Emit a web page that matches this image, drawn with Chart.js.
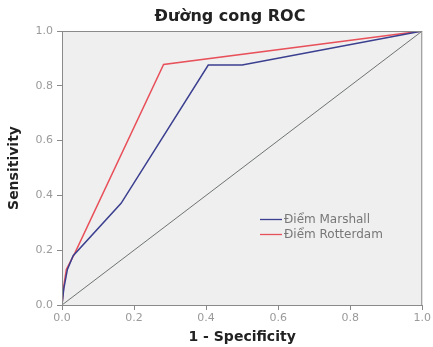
<!DOCTYPE html>
<html>
<head>
<meta charset="utf-8">
<script src="https://cdn.jsdelivr.net/npm/chart.js@4/dist/chart.umd.min.js"></script>
<style>
html,body{margin:0;padding:0;background:#fff;}
canvas{display:block;}
</style>
</head>
<body>
<canvas id="c" width="433" height="347"></canvas>
<script>
const chartTitle = "Đường cong ROC";
const xTitle = "1 - Specificity";
const yTitle = "Sensitivity";
const seriesNames = ["Điểm Marshall", "Điểm Rotterdam"];
const marshallX = [0, 0.005, 0.015, 0.031, 0.164, 0.406, 0.5, 1];
const marshallY = [0, 0.06, 0.13, 0.18, 0.371, 0.876, 0.876, 1];
const rotterdamX = [0, 0.005, 0.012, 0.036, 0.282, 1];
const rotterdamY = [0, 0.07, 0.13, 0.19, 0.878, 1];
const refX = [0, 1];
const refY = [0, 1];
const tickValues = [0, 0.2, 0.4, 0.6, 0.8, 1.0];

const colors = {marshall: "#3b3f8f", rotterdam: "#e8505a", ref: "#6e7370"};
const pts = (xs, ys) => xs.map((x, i) => ({x, y: ys[i]}));
const FAM = '"DejaVu Sans", Verdana, sans-serif';

const bgPlugin = {
  id: 'bg',
  beforeDraw(chart) {
    const {ctx, chartArea: a} = chart;
    ctx.save();
    ctx.fillStyle = '#efefef';
    ctx.fillRect(a.left, a.top, a.right - a.left, a.bottom - a.top);
    ctx.restore();
  },
  afterDraw(chart) {
    const {ctx, chartArea: a} = chart;
    ctx.save();
    ctx.strokeStyle = '#8a8a8a';
    ctx.lineWidth = 1;
    ctx.strokeRect(a.left + 0.5, a.top + 0.5, a.right - a.left - 1, a.bottom - a.top);
    // title
    ctx.fillStyle = '#222';
    ctx.font = 'bold 16px ' + FAM;
    ctx.textAlign = 'center';
    ctx.textBaseline = 'alphabetic';
    ctx.fillText(chartTitle, 230, 21);
    // legend
    const items = [
      {name: seriesNames[0], color: colors.marshall},
      {name: seriesNames[1], color: colors.rotterdam}
    ];
    ctx.font = '12px ' + FAM;
    ctx.textAlign = 'left';
    ctx.textBaseline = 'middle';
    items.forEach((it, i) => {
      const y = 219 + i * 15;
      ctx.strokeStyle = it.color;
      ctx.lineWidth = 1.3;
      ctx.beginPath();
      ctx.moveTo(260, y + 0.5);
      ctx.lineTo(282, y + 0.5);
      ctx.stroke();
      ctx.fillStyle = '#777';
      ctx.fillText(it.name, 284, y + 1);
    });
    ctx.restore();
  }
};

const tickFont = {family: FAM, size: 11};
const titleFont = {family: FAM, size: 14, weight: 'bold'};

new Chart(document.getElementById('c'), {
  type: 'scatter',
  data: {
    datasets: [
      {label: 'ref', data: pts(refX, refY), showLine: true, borderColor: colors.ref, borderWidth: 1, pointRadius: 0},
      {label: seriesNames[0], data: pts(marshallX, marshallY), showLine: true, borderColor: colors.marshall, borderWidth: 1.5, pointRadius: 0},
      {label: seriesNames[1], data: pts(rotterdamX, rotterdamY), showLine: true, borderColor: colors.rotterdam, borderWidth: 1.5, pointRadius: 0}
    ]
  },
  options: {
    responsive: false,
    devicePixelRatio: 1,
    animation: false,
    layout: {padding: {left: 0, right: 8, top: 31, bottom: 0}},
    plugins: {legend: {display: false}, tooltip: {enabled: false}, title: {display: false}},
    scales: {
      x: {
        type: 'linear', min: 0, max: 1,
        afterBuildTicks(s) { s.ticks = tickValues.map(v => ({value: v})); },
        afterFit(s) { s.height = 42; },
        ticks: {font: tickFont, color: '#9a9a9a', padding: 2, maxRotation: 0, callback: v => v.toFixed(1)},
        grid: {drawOnChartArea: false, drawTicks: true, tickLength: 5, color: '#8a8a8a'},
        border: {color: '#8a8a8a'},
        title: {display: true, text: xTitle, font: titleFont, color: '#222', padding: {top: 0, bottom: 1}}
      },
      y: {
        type: 'linear', min: 0, max: 1,
        afterBuildTicks(s) { s.ticks = tickValues.map(v => ({value: v})); },
        afterFit(s) { s.width = 62; },
        ticks: {font: tickFont, color: '#9a9a9a', padding: 4, callback: v => v.toFixed(1)},
        grid: {drawOnChartArea: false, drawTicks: true, tickLength: 5, color: '#8a8a8a'},
        border: {color: '#8a8a8a'},
        title: {display: true, text: yTitle, font: titleFont, color: '#222', padding: {top: 6, bottom: 0}}
      }
    }
  },
  plugins: [bgPlugin]
});
</script>
</body>
</html>
